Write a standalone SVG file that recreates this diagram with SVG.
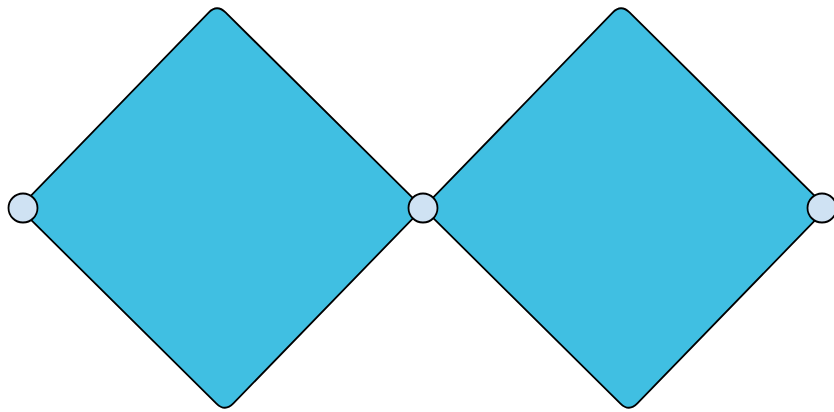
<svg xmlns="http://www.w3.org/2000/svg" width="834" height="412" viewBox="0 0 834 412">
<style>
.dia{fill:#40BFE2;stroke:#000;stroke-width:1.8;stroke-linejoin:round}
.port{fill:#CFE2F3;stroke:#000;stroke-width:1.8}
</style>
<defs>
<path id="diamond" d="M27.36,199.39 L208.64,12.61 Q217,4 225.53,12.44 L414.47,199.56 Q423,208 414.64,216.61 L233.36,403.39 Q225,412 216.47,403.56 L27.53,216.44 Q19,208 27.36,199.39 Z"/>
</defs>
<rect width="834" height="412" fill="#fff"/>
<g id="connectors"></g>
<g id="diamond1"><use href="#diamond" class="dia"/></g>
<g id="diamond2"><use href="#diamond" class="dia" transform="translate(404,0)"/></g>
<g id="port-left"><circle class="port" cx="23" cy="208" r="14.5"/></g>
<g id="port-middle"><circle class="port" cx="423" cy="208" r="14.5"/></g>
<g id="port-right"><circle class="port" cx="822" cy="208" r="14.5"/></g>
</svg>
